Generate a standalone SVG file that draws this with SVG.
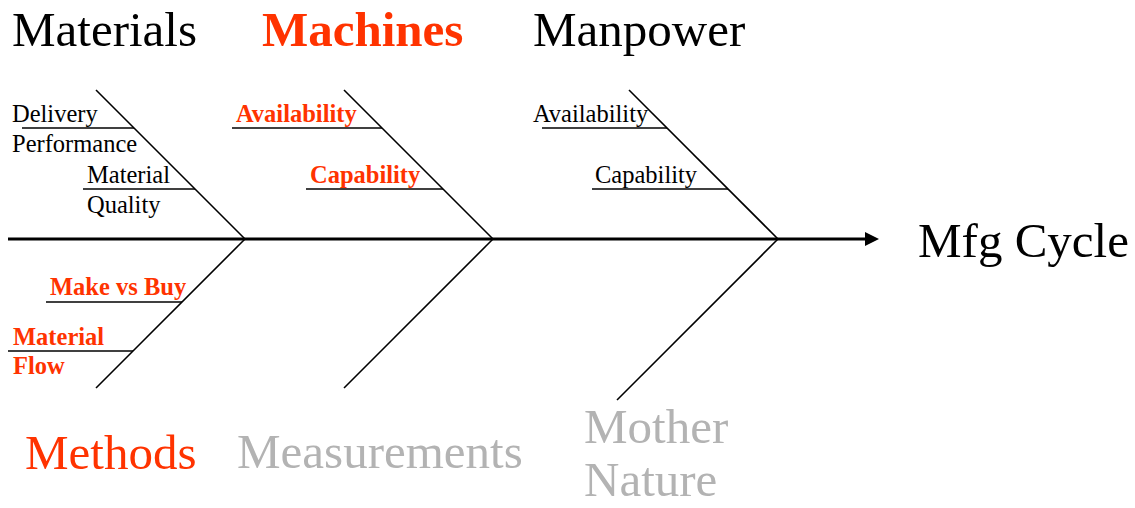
<svg xmlns="http://www.w3.org/2000/svg" width="1135" height="508" viewBox="0 0 1135 508">
<style>
text{font-family:"Liberation Serif","Times New Roman",serif;}
.t{font-size:49px;}
.s{font-size:24.5px;}
.b{font-weight:bold;}
.red{fill:#ff3300;}
.gray{fill:#b3b3b3;}
.blk{fill:#000;}
.bone{stroke:#000;stroke-width:1.6;fill:none;}
.spine{stroke:#000;stroke-width:3;fill:none;}
</style>
<defs>
<marker id="ah" markerWidth="14" markerHeight="14" refX="0" refY="7" orient="auto" markerUnits="userSpaceOnUse">
<path d="M0,0 L14,7 L0,14 z" fill="#000"/>
</marker>
</defs>
<g id="connectors">
<line class="spine" x1="8" y1="239" x2="865" y2="239" marker-end="url(#ah)"/>
<line class="bone" x1="96" y1="90" x2="245" y2="239"/>
<line class="bone" x1="245" y1="239" x2="96" y2="388"/>
<line class="bone" x1="344" y1="90" x2="493" y2="239"/>
<line class="bone" x1="493" y1="239" x2="344" y2="388"/>
<line class="bone" x1="629" y1="90" x2="778" y2="239"/>
<line class="bone" x1="778" y1="239" x2="617" y2="400"/>
<line class="bone" x1="22" y1="128" x2="134" y2="128"/>
<line class="bone" x1="83" y1="189" x2="195" y2="189"/>
<line class="bone" x1="232" y1="128" x2="382" y2="128"/>
<line class="bone" x1="306" y1="189" x2="443" y2="189"/>
<line class="bone" x1="542" y1="128" x2="667" y2="128"/>
<line class="bone" x1="592" y1="189" x2="728" y2="189"/>
<line class="bone" x1="46" y1="302" x2="182" y2="302"/>
<line class="bone" x1="8" y1="351" x2="133" y2="351"/>
</g>
<g id="materials"><text class="t blk" x="12" y="46">Materials</text></g>
<g id="machines"><text class="t b red" x="262" y="46">Machines</text></g>
<g id="manpower"><text class="t blk" x="533" y="46">Manpower</text></g>
<g id="mfg-cycle"><text class="t blk" x="918" y="257">Mfg Cycle</text></g>
<g id="methods"><text class="t red" x="25" y="469">Methods</text></g>
<g id="measurements"><text class="t gray" x="237" y="468">Measurements</text></g>
<g id="mother-nature"><text class="t gray" x="584" y="443">Mother</text><text class="t gray" x="584" y="496">Nature</text></g>
<g id="delivery-performance"><text class="s blk" x="12" y="122">Delivery</text><text class="s blk" x="12" y="152">Performance</text></g>
<g id="material-quality"><text class="s blk" x="87" y="183">Material</text><text class="s blk" x="87" y="213">Quality</text></g>
<g id="machines-availability"><text class="s b red" x="236" y="122">Availability</text></g>
<g id="machines-capability"><text class="s b red" x="310" y="183">Capability</text></g>
<g id="manpower-availability"><text class="s blk" x="533" y="122">Availability</text></g>
<g id="manpower-capability"><text class="s blk" x="595" y="183">Capability</text></g>
<g id="make-vs-buy"><text class="s b red" x="50" y="295">Make vs Buy</text></g>
<g id="material-flow"><text class="s b red" x="13" y="345">Material</text><text class="s b red" x="13" y="374">Flow</text></g>
</svg>
